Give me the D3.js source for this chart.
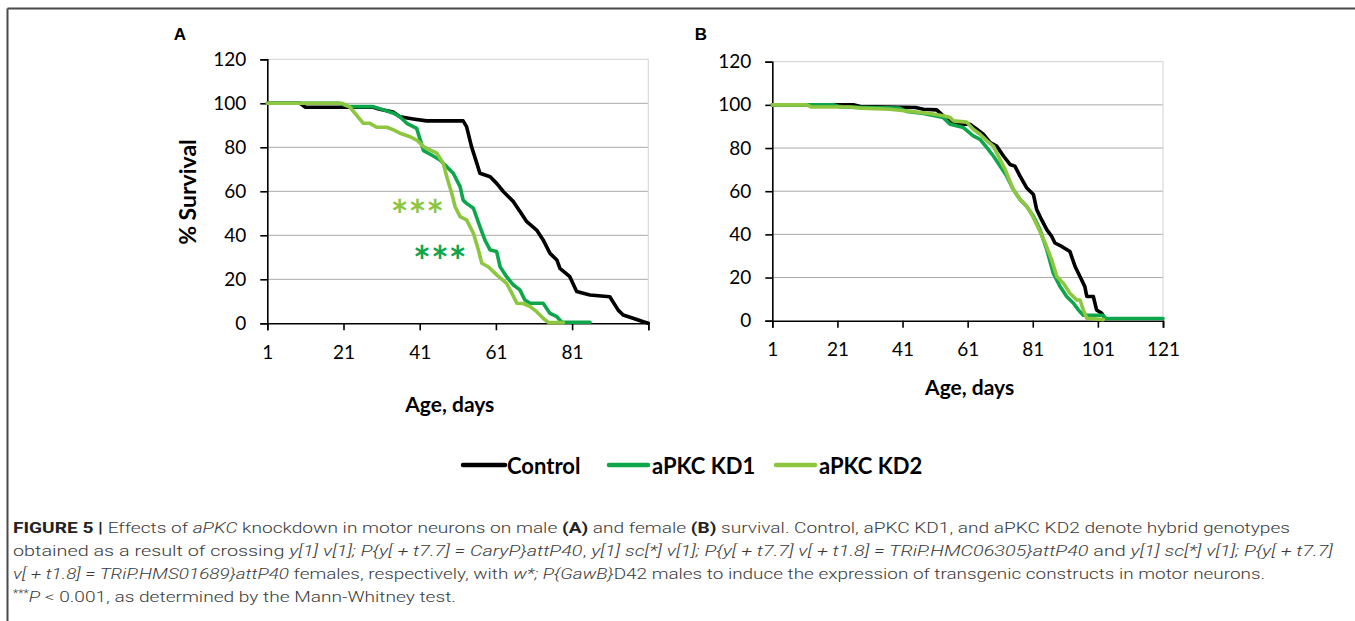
<!DOCTYPE html>
<html>
<head>
<meta charset="utf-8">
<script src="https://cdn.jsdelivr.net/npm/d3@7"></script>
<style>
  html, body { margin: 0; padding: 0; background: #fff; }
  svg { display: block; }
</style>
</head>
<body>
<svg id="chart" width="1355" height="621"></svg>
<script>
// ---------- DATA ----------
const seriesNames = ["Control", "aPKC KD1", "aPKC KD2"];
const seriesColors = ["#000000", "#0ea64b", "#8dc63f"];

const yTicks = [0, 20, 40, 60, 80, 100, 120];
const xTicksA = [1, 21, 41, 61, 81];
const xTicksB = [1, 21, 41, 61, 81, 101, 121];

// Panel A (male): [day, % survival]
const maleControl = [[1,100],[9.6,100],[11,98.2],[28.8,98.2],[30.5,97.3],[34,96],[35.8,93.9],[39.3,92.9],[42.8,92],[52.4,92],[53.3,89.4],[54.6,80.3],[56,72.7],[56.8,68.2],[59.5,66.6],[61.2,63.6],[63,59.8],[65.6,55.3],[68.2,48.5],[69.1,46.2],[71.7,42.4],[73.4,37.9],[75.2,31.8],[77,28.8],[77.8,25],[80.4,21.2],[82.2,14.4],[85.7,12.9],[90.9,12.1],[93.1,6],[94.4,3.8],[97,2.3],[99.7,0.7],[101,0]];
const maleKD1 = [[1,100],[19.8,100],[22.5,98.5],[28.8,98.5],[31.5,97],[34.1,95.5],[35.8,93.9],[37.6,90.9],[40.2,88.6],[42,78.5],[44.1,76.5],[46.3,74.2],[48.1,71.2],[49.8,68.2],[51.6,62.1],[52.4,56],[53.3,54.5],[55.1,52.3],[56.8,43.9],[58.1,37.9],[59.5,33.3],[61.2,32.6],[62.1,25.7],[63.8,21.2],[65.6,17.4],[67.3,15.2],[68.6,10.6],[70,9.1],[73.4,9.1],[75.2,4.5],[77,3],[78.3,0.5],[85.7,0.5]];
const maleKD2 = [[1,100],[20.7,100],[22.7,98.2],[26.2,90.9],[27.9,90.9],[29.7,89.1],[32.4,89.1],[34.1,87.9],[35.8,86.4],[38.5,84.8],[40.2,83.3],[42,80.3],[43.7,78.8],[45.5,77.3],[47.2,72.7],[48.1,66.6],[49.4,59.1],[50.3,53],[51.6,48.5],[53.3,47],[55.1,40.9],[56.4,33.3],[57.3,27.3],[59,25.7],[61.2,22],[63.8,18.2],[65.2,13.6],[66.5,9.1],[68.2,9],[70,7.6],[71.7,5.3],[73.4,2.3],[74.8,0.3],[78.7,0.3]];

// Panel B (female)
const femaleControl = [[1,100],[25.9,100],[28,99.2],[45,98.8],[47.4,98],[51.5,97.7],[54.6,93.4],[57.6,91],[61.7,91],[63.8,88.7],[65.8,86.4],[67.9,82.5],[69.9,80.9],[72,76.3],[74,72.4],[75.5,71.6],[77.1,67],[79.1,61.6],[81.2,58.5],[82.2,51.5],[83.7,46.8],[85.3,42.2],[86.8,39.1],[87.8,36],[89.9,34.4],[92.4,32.1],[94,25.1],[95.5,20.5],[97,15.8],[97.6,11.2],[99.6,11.2],[100.6,5],[102.2,3.4],[103.2,1]];
const femaleKD1 = [[1,100],[20,100],[22,99],[40,98.5],[42.3,97],[47.4,96],[53.5,94.1],[55.6,91],[59.7,89.5],[62.7,85.6],[64.8,84],[66.9,80.2],[68.9,76.3],[71,71.6],[73,67],[75,60.8],[77.1,56.1],[79.1,53],[81.2,48.4],[83.2,42.2],[85.3,32.9],[87.3,22],[89.4,15.8],[91.4,11.2],[93.5,8.1],[95,5],[96.5,2.5],[102.5,2.5],[103.5,1],[121,1]];
const femaleKD2 = [[1,100],[11.6,100],[13,99],[24.9,99],[28,98.5],[37.1,98],[49.4,96],[53.5,95],[55.6,94.1],[56.6,92.6],[60.7,92],[62.7,88.7],[64.8,86.4],[66.9,83.3],[68.9,80.9],[70.4,76.3],[72.5,70.1],[75,60.8],[77.1,56.1],[79.1,53],[80.7,49.2],[82.7,43],[84.8,36],[86.8,28.2],[88.4,20.5],[90.4,17.4],[92.4,12.7],[94.5,9.6],[95.5,9.6],[96.5,5],[97.6,1.1],[102.7,0.5]];

// significance marks in panel A: [day, % survival level of star centre]
const starsKD2 = [40.4, 53];
const starsKD1 = [46.3, 32];

// ---------- DRAW ----------
const svg = d3.select("#chart");
const chartFont = "Lato, 'Open Sans', sans-serif";

// outer frame (top + left lines)
svg.append("line").attr("x1", 7.5).attr("x2", 1355).attr("y1", 8.5).attr("y2", 8.5)
  .attr("stroke", "#4a4a4a").attr("stroke-width", 2);
svg.append("line").attr("x1", 7.5).attr("x2", 7.5).attr("y1", 8.5).attr("y2", 621)
  .attr("stroke", "#4a4a4a").attr("stroke-width", 2);

function panel(opt) {
  const x = d3.scaleLinear().domain(opt.xDomain).range([opt.left, opt.right]);
  const y = d3.scaleLinear().domain([0, 120]).range([opt.bottom, opt.top]);
  const g = svg.append("g");

  // gridlines
  g.append("g").selectAll("line").data(yTicks.filter(d => d > 0 && d < 120)).join("line")
    .attr("x1", opt.left).attr("x2", opt.right)
    .attr("y1", d => y(d)).attr("y2", d => y(d))
    .attr("stroke", "#a8a8a8").attr("stroke-width", 1);
  // plot area border (top/right)
  g.append("path")
    .attr("d", `M${opt.left},${y(120)}H${opt.right}V${opt.bottom}`)
    .attr("fill", "none").attr("stroke", "#d9d9d9").attr("stroke-width", 1.2);

  // y axis
  const yAxis = d3.axisLeft(y).tickValues(yTicks).tickSize(7).tickPadding(14).tickFormat(d3.format("d"));
  const ya = g.append("g").attr("transform", `translate(${opt.left},0)`).call(yAxis);
  ya.select(".domain").attr("stroke", "#000").attr("stroke-width", 1.6);
  ya.selectAll(".tick line").attr("stroke", "#000").attr("stroke-width", 1.6);
  ya.selectAll("text").attr("font-family", chartFont).attr("font-size", 19).attr("fill", "#000");

  // x axis
  const xAxis = d3.axisBottom(x).tickValues(opt.xTickVals).tickSize(7).tickPadding(15)
    .tickFormat(d => opt.xLabels.includes(d) ? d : "");
  const xa = g.append("g").attr("transform", `translate(0,${opt.bottom})`).call(xAxis);
  xa.select(".domain").attr("stroke", "#000").attr("stroke-width", 1.6);
  xa.selectAll(".tick line").attr("stroke", "#000").attr("stroke-width", 1.6);
  xa.selectAll("text").attr("font-family", chartFont).attr("font-size", 19).attr("fill", "#000");

  // lines
  const line = d3.line().x(d => x(d[0])).y(d => y(d[1])).curve(d3.curveLinear);
  opt.series.forEach((s, i) => {
    g.append("path").datum(s).attr("d", line)
      .attr("fill", "none").attr("stroke", seriesColors[i])
      .attr("stroke-width", 3.6).attr("stroke-linejoin", "round").attr("stroke-linecap", "round");
  });

  // x title
  g.append("text").attr("x", (opt.left + opt.right) / 2 + opt.xTitleDx).attr("y", opt.xTitleY)
    .attr("text-anchor", "middle").attr("font-family", chartFont).attr("font-weight", 700)
    .attr("font-size", 21).text("Age, days");

  // panel letter
  g.append("text").attr("x", opt.letterX).attr("y", 40).attr("text-anchor", "middle")
    .attr("font-family", "'Liberation Sans', Arial, sans-serif").attr("font-weight", 700)
    .attr("font-size", 17).text(opt.letter);

  return { x, y, g };
}

const pA = panel({
  xDomain: [1, 101], left: 267.3, right: 648.3, top: 59.3, bottom: 323.3,
  xTickVals: [1, 21, 41, 61, 81, 101], xLabels: xTicksA,
  series: [maleControl, maleKD1, maleKD2], xTitleY: 412, xTitleDx: -8,
  letter: "A", letterX: 180
});
const pB = panel({
  xDomain: [1, 121], left: 772.3, right: 1163, top: 61.7, bottom: 320.7,
  xTickVals: xTicksB, xLabels: xTicksB,
  series: [femaleControl, femaleKD1, femaleKD2], xTitleY: 395, xTitleDx: 2,
  letter: "B", letterX: 701
});

// y title panel A
svg.append("text").attr("transform", "translate(196,192) rotate(-90)")
  .attr("text-anchor", "middle").attr("font-family", chartFont).attr("font-weight", 700)
  .attr("font-size", 23).text("% Survival");

// significance asterisks
[[starsKD2, seriesColors[2]], [starsKD1, seriesColors[1]]].forEach(([p, c]) => {
  pA.g.append("text").attr("x", pA.x(p[0])).attr("y", pA.y(p[1]) + 24)
    .attr("text-anchor", "middle").attr("font-family", chartFont).attr("font-weight", 700)
    .attr("font-size", 42).attr("fill", c).text("***");
});

// legend
const legendItems = [
  { x1: 463, x2: 505, tx: 507 },
  { x1: 609, x2: 648, tx: 652 },
  { x1: 776, x2: 815, tx: 819 }
];
const lg = svg.append("g");
legendItems.forEach((d, i) => {
  lg.append("line").attr("x1", d.x1).attr("x2", d.x2).attr("y1", 465).attr("y2", 465)
    .attr("stroke", seriesColors[i]).attr("stroke-width", 4.5).attr("stroke-linecap", "round");
  lg.append("text").attr("x", d.tx).attr("y", 473.5).attr("font-family", chartFont)
    .attr("font-weight", 700).attr("font-size", 22).text(seriesNames[i]);
});

// caption
const capFont = "Roboto, 'Liberation Sans', Arial, sans-serif";
const captionLines = [
  { y: 533, len: 1277, parts: [
    ["FIGURE 5 | ", "b"], ["Effects of ", ""], ["aPKC", "i"], [" knockdown in motor neurons on male ", ""],
    ["(A)", "b"], [" and female ", ""], ["(B)", "b"],
    [" survival. Control, aPKC KD1, and aPKC KD2 denote hybrid genotypes", ""]] },
  { y: 556, len: 1320, parts: [
    ["obtained as a result of crossing ", ""], ["y[1] v[1]; P{y[ + t7.7] = CaryP}attP40", "i"], [", ", ""],
    ["y[1] sc[*] v[1]; P{y[ + t7.7] v[ + t1.8] = TRiP.HMC06305}attP40", "i"], [" and ", ""],
    ["y[1] sc[*] v[1]; P{y[ + t7.7]", "i"]] },
  { y: 578.5, len: 1252, parts: [
    ["v[ + t1.8] = TRiP.HMS01689}attP40", "i"], [" females, respectively, with ", ""], ["w*; P{GawB}", "i"],
    ["D42 males to induce the expression of transgenic constructs in motor neurons.", ""]] },
  { y: 601.5, len: null, parts: [
    ["***", "s"], ["P", "i"], [" < 0.001, as determined by the Mann-Whitney test.", ""]] }
];
const cap = svg.append("g");
let ratio = 1;
captionLines.forEach((l, idx) => {
  const t = cap.append("text").attr("x", 13).attr("y", l.y)
    .attr("font-family", capFont).attr("font-size", 15.5).attr("font-weight", 300)
    .attr("fill", "#3a3a3a");
  l.parts.forEach(([s, st]) => {
    const ts = t.append("tspan").text(s);
    if (st === "b") ts.attr("font-weight", 700).attr("fill", "#222");
    if (st === "i") ts.attr("font-style", "italic");
    if (st === "s") ts.attr("font-size", 10).attr("dy", -5);
    if (s === "P" && st === "i") ts.attr("dy", 5);
  });
  const natural = t.node().getComputedTextLength();
  if (idx === 0) ratio = l.len / natural;
  const target = l.len ? l.len : natural * ratio;
  t.attr("textLength", target).attr("lengthAdjust", "spacingAndGlyphs");
});
</script>
</body>
</html>
